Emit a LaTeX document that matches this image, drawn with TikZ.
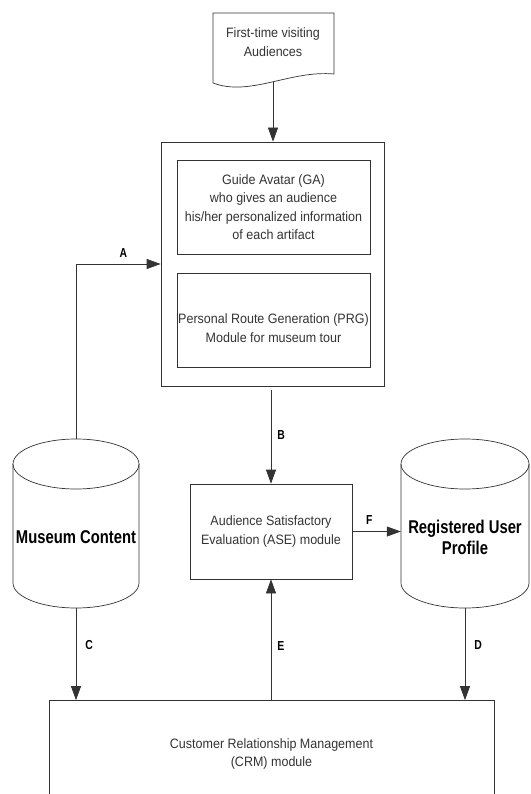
\documentclass[tikz,border=0pt]{standalone}
\usepackage{fontspec}
\setmainfont{Liberation Sans}
\newfontfamily\boxfont[FakeStretch=0.92]{Liberation Sans}
\newfontfamily\tagfont[FakeStretch=0.8]{Liberation Sans}
\usetikzlibrary{arrows.meta,positioning}

\tikzset{
  module/.style={draw=black!80, line width=0.7pt, align=center, inner sep=0pt,
    text=black!80, font=\boxfont\fontsize{13.6}{18.3}\selectfont},
  store/.style={inner sep=0pt},
  storetext/.style={font=\tagfont\bfseries\fontsize{18.5}{21}\selectfont, align=center},
  flow/.style={draw=black!80, line width=0.7pt, -{Triangle[length=14pt,width=10pt]}},
  tag/.style={font=\tagfont\bfseries\fontsize{13}{14}\selectfont, inner sep=1pt},
}

\begin{document}
\begin{tikzpicture}[x=1pt, y=-1pt]
        \useasboundingbox (0,0) rectangle (530,794);
        \clip (0,0) rectangle (530,794);
        % Visiting audiences (document)
        \draw[black!80, line width=0.7pt] (213,83) -- (213,13) -- (334,13) -- (334,74)
            .. controls (290,70) and (250,97) .. (213,83);
        \node[module, draw=none] (visitors) at (273,42) {First-time visiting\\Audiences};
        \coordinate (visitors-out) at (273,82);
        % Guide system
        \node[module, minimum width=223pt, minimum height=244pt] (guide) at (272.5,264) {};
        \node[module, minimum width=193pt, minimum height=94pt] (ga) at (273.5,207)
            {Guide Avatar (GA)\\who gives an audience\\his/her personalized information\\of each artifact};
        \node[module, minimum width=193pt, minimum height=94pt] (prg) at (273.5,320) {};
        \node[module, draw=none] (prg-text) at (273.5,328)
            {Personal Route Generation (PRG)\\Module for museum tour};
        % Evaluation module
        \node[module, minimum width=162pt, minimum height=95pt] (ase) at (271,531.5)
            {Audience Satisfactory\\Evaluation (ASE) module};
        % Databases
        \node[store, minimum width=126pt, minimum height=169pt] (museum) at (76,523.5) {};
        \node[store, minimum width=128pt, minimum height=169pt] (profile) at (465,523.5) {};
        \draw[black!80, line width=0.7pt] (76,464) ellipse [x radius=63, y radius=25];
        \draw[black!80, line width=0.7pt] (13,464) -- (13,583)
            arc[start angle=180, end angle=0, x radius=63, y radius=25] -- (139,464);
        \draw[black!80, line width=0.7pt] (465,464) ellipse [x radius=64, y radius=25];
        \draw[black!80, line width=0.7pt] (401,464) -- (401,583)
            arc[start angle=180, end angle=0, x radius=64, y radius=25] -- (529,464);
        \node[storetext] (museum-text) at (76,537) {Museum Content};
        \node[storetext] (profile-text) at (465,537.5) {Registered User\\Profile};
        % CRM
        \node[module, minimum width=445pt, minimum height=107pt] (crm) at (271.5,754)
            {Customer Relationship Management\\(CRM) module};
        % Flows
        \draw[flow] (visitors-out) -- (visitors-out |- guide.north);
        \draw[flow] (museum.north) |- (guide.west) node[tag, pos=0.78, above=5pt] {A};
        \draw[flow, shorten <=4pt] (ase.north |- guide.south) -- (ase.north)
            node[tag, midway, right=5pt] {B};
        \draw[flow] (ase.east) -- (ase.east -| profile.west) node[tag, pos=0.35, above=6pt] {F};
        \draw[flow] (museum.south) -- (museum.south |- crm.north) node[tag, pos=0.4, right=8pt] {C};
        \draw[flow] (crm.north -| ase.south) -- (ase.south) node[tag, pos=0.45, right=5pt] {E};
        \draw[flow] (profile.south) -- (profile.south |- crm.north) node[tag, pos=0.4, right=8pt] {D};
    \end{tikzpicture}
\end{document}
